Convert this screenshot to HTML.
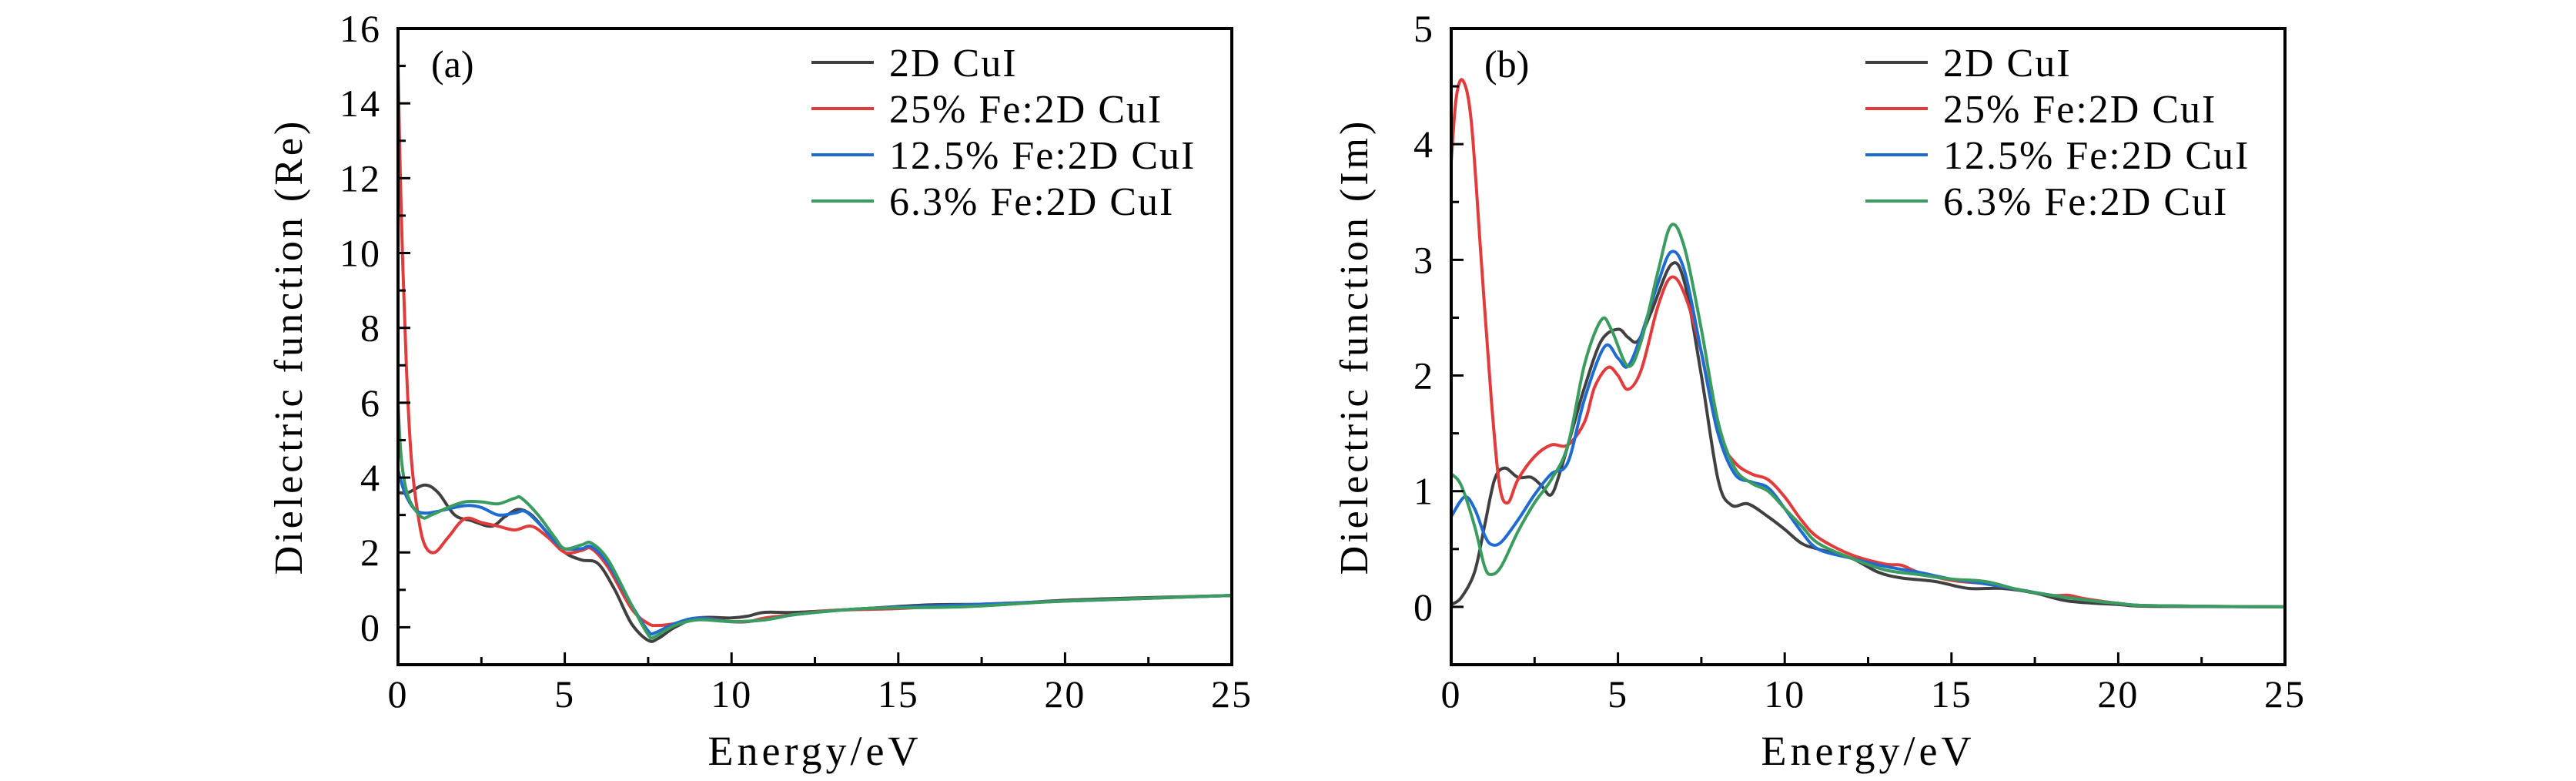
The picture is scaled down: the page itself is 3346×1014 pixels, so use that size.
<!DOCTYPE html>
<html><head><meta charset="utf-8"><style>
html,body{margin:0;padding:0;background:#fff;}
svg{display:block;}
text{font-family:"Liberation Serif",serif;fill:#000;}
</style></head><body>
<svg id="chart" width="3346" height="1014" viewBox="0 0 3346 1014" xmlns="http://www.w3.org/2000/svg"></svg>
<script>
const seriesNames = ["2D CuI","25% Fe:2D CuI","12.5% Fe:2D CuI","6.3% Fe:2D CuI"];
const seriesColors = ["#404040","#e23b3b","#1f6bd1","#3a9c5e"];
const xTicks = [0,5,10,15,20,25];
const yTicksA = [0,2,4,6,8,10,12,14,16];
const yTicksB = [0,1,2,3,4,5];

// Panel (a) Re
const reBlackX=[0,0.3,0.8,1.2,1.7,2.2,2.8,3.2,3.6,4,4.5,5,5.5,6,6.5,7,7.5,7.8,8.3,9,10,10.5,11,12,14,16,18,20,22,25];
const reBlackY=[3.6,3.6,3.8,3.6,3.0,2.85,2.7,2.95,3.15,3.0,2.5,2.0,1.8,1.7,1.0,0.1,-0.35,-0.3,0.0,0.25,0.25,0.3,0.4,0.4,0.5,0.6,0.62,0.72,0.78,0.85];
const reRedX=[0,0.1,0.25,0.4,0.6,0.8,1.1,1.5,2,2.5,3,3.5,4,4.5,5,5.5,5.8,6.3,7,7.5,7.8,8.3,9,10,10.5,11,12,13,15,17,20,25];
const reRedY=[15,11,7,4.5,3,2.2,2.0,2.4,2.9,2.8,2.7,2.6,2.7,2.4,2.0,2.05,2.1,1.6,0.5,0.1,0.05,0.1,0.25,0.15,0.15,0.25,0.35,0.45,0.5,0.6,0.7,0.85];
const reBlueX=[0,0.2,0.5,0.8,1.2,2,2.5,3,3.5,3.8,4.2,4.7,5,5.5,5.8,6.3,7,7.5,7.7,8.3,9,10,11,12,14,17,20,25];
const reBlueY=[4.2,3.6,3.15,3.05,3.1,3.25,3.2,3.0,3.05,3.1,2.8,2.3,2.1,2.1,2.15,1.7,0.6,-0.1,-0.15,0.1,0.25,0.15,0.2,0.35,0.5,0.6,0.7,0.85];
const reGreenX=[0,0.1,0.3,0.7,1,1.5,2,2.5,3,3.5,3.7,4.2,4.7,5,5.5,5.8,6.3,7,7.5,7.7,8.3,9,10,11,12,14,17,20,25];
const reGreenY=[6,4.5,3.5,2.95,3.0,3.2,3.35,3.35,3.3,3.45,3.45,3.0,2.4,2.1,2.2,2.25,1.8,0.6,-0.2,-0.25,0.05,0.2,0.15,0.2,0.35,0.5,0.55,0.7,0.85];

// Panel (b) Im
const imBlackX=[0,0.3,0.7,1,1.3,1.6,2,2.4,2.7,3,3.3,3.7,4,4.5,5,5.3,5.6,6,6.6,7,7.5,8,8.4,8.9,9.5,10,10.5,11,12,12.8,13.5,14.5,15.5,16.5,17.5,18.5,20,21,25];
const imBlackY=[0.02,0.08,0.3,0.7,1.1,1.2,1.12,1.12,1.05,0.97,1.2,1.6,1.9,2.3,2.4,2.33,2.3,2.55,2.96,2.8,2.0,1.1,0.88,0.89,0.78,0.67,0.55,0.5,0.42,0.3,0.25,0.22,0.16,0.16,0.12,0.05,0.02,0.005,0];
const imRedX=[0,0.15,0.35,0.6,0.9,1.2,1.45,1.7,2,2.5,3,3.5,4,4.3,4.7,5,5.3,5.7,6.2,6.6,7,7.5,8,8.5,9,9.5,10,10.5,11,12,13,13.5,14,15,16,17,18,18.5,19,20,21,25];
const imRedY=[3.85,4.4,4.55,4.2,3.0,1.8,1.05,0.9,1.1,1.3,1.4,1.4,1.6,1.9,2.07,2.0,1.88,2.05,2.6,2.85,2.7,2.2,1.5,1.25,1.15,1.1,0.95,0.75,0.6,0.45,0.37,0.36,0.3,0.23,0.2,0.15,0.1,0.1,0.07,0.03,0.01,0];
const imBlueX=[0,0.4,0.7,1,1.2,1.5,2,2.5,3,3.5,4,4.6,5,5.3,5.7,6.2,6.6,7,7.5,8,8.5,9,9.5,10,10.5,11,12,13,14,15,16,17,18,19,20,21,25];
const imBlueY=[0.78,0.95,0.85,0.62,0.54,0.56,0.75,0.97,1.15,1.25,1.8,2.25,2.15,2.08,2.35,2.8,3.07,2.9,2.2,1.5,1.15,1.08,1.03,0.85,0.65,0.5,0.42,0.35,0.3,0.24,0.2,0.15,0.1,0.06,0.03,0.01,0];
const imGreenX=[0,0.3,0.7,1,1.2,1.5,2,2.5,3,3.5,4,4.5,4.8,5.3,5.7,6.2,6.6,7,7.5,8,8.5,9,9.5,10,10.5,11,12,13,14,15,16,17,18,19,20,21,25];
const imGreenY=[1.15,1.05,0.7,0.35,0.28,0.35,0.65,0.9,1.1,1.4,2.1,2.48,2.4,2.08,2.3,2.9,3.3,3.1,2.4,1.6,1.2,1.07,1.0,0.85,0.7,0.55,0.42,0.32,0.28,0.24,0.22,0.15,0.1,0.06,0.03,0.01,0];

const svg=document.getElementById('chart');
const NS='http://www.w3.org/2000/svg';
function mk(tag,attrs,parent){const e=document.createElementNS(NS,tag);for(const k in attrs)e.setAttribute(k,attrs[k]);(parent||svg).appendChild(e);return e;}
function smooth(pts){let d='M'+pts[0][0].toFixed(1)+','+pts[0][1].toFixed(1);
 for(let i=0;i<pts.length-1;i++){const p0=pts[Math.max(0,i-1)],p1=pts[i],p2=pts[i+1],p3=pts[Math.min(pts.length-1,i+2)];
  const c1=[p1[0]+(p2[0]-p0[0])/6,p1[1]+(p2[1]-p0[1])/6],c2=[p2[0]-(p3[0]-p1[0])/6,p2[1]-(p3[1]-p1[1])/6];
  d+=' C'+c1[0].toFixed(1)+','+c1[1].toFixed(1)+' '+c2[0].toFixed(1)+','+c2[1].toFixed(1)+' '+p2[0].toFixed(1)+','+p2[1].toFixed(1);}
 return d;}

function panel(cfg){
 const {L,R,T,B,ymin,ymax,yTicks,yMinor,label,ytitle,series,tag,legX,titleX}=cfg;
 const g=mk('g',{});
 
 
 const xs=v=>L+(v-0)/25*(R-L);
 const ys=v=>B-(v-ymin)/(ymax-ymin)*(B-T);
 const clipId='clip-'+tag;
 const cp=mk('clipPath',{id:clipId},g);mk('rect',{x:L,y:T,width:R-L,height:B-T},cp);
 const lg=mk('g',{'clip-path':'url(#'+clipId+')'},g);
 series.forEach((s,i)=>{
  const pts=s[0].map((x,j)=>[xs(x),ys(s[1][j])]);
  const p=mk('path',{d:smooth(pts),fill:'none',stroke:seriesColors[i],'stroke-width':4,'stroke-linejoin':'round'},lg);
  
  
 });
 const fr=mk('rect',{x:L,y:T,width:R-L,height:B-T,fill:'none',stroke:'#000','stroke-width':4},g);
 
 
 for(let v=0;v<=25;v+=2.5){const x=xs(v);const major=(v%5===0);
  mk('line',{x1:x,y1:B,x2:x,y2:B-(major?16:10),stroke:'#000','stroke-width':3},g);}
 xTicks.forEach(v=>{const t=mk('text',{x:xs(v),y:918,'font-size':50,'text-anchor':'middle','letter-spacing':'2'},g);t.textContent=v;
  
  });
 for(let v=yMinor[0];v<=ymax+1e-6;v+=yMinor[1]){const y=ys(v);const major=yTicks.some(t=>Math.abs(t-v)<1e-6);
  mk('line',{x1:L,y1:y,x2:L+(major?16:10),y2:y,stroke:'#000','stroke-width':3},g);}
 yTicks.forEach(v=>{const t=mk('text',{x:L-22,y:ys(v)+17,'font-size':50,'text-anchor':'end','letter-spacing':'2'},g);t.textContent=v;
  
  });
 const xt=mk('text',{x:(L+R)/2,y:993,'font-size':54,'text-anchor':'middle','letter-spacing':'5'},g);xt.textContent='Energy/eV';
 
 
 const yt=mk('text',{x:titleX,y:(T+B)/2,'font-size':52,'text-anchor':'middle','letter-spacing':'4',transform:'rotate(-90 '+titleX+' '+(T+B)/2+')'},g);yt.textContent=ytitle;
 
 
 const pl=mk('text',{x:L+43,y:100,'font-size':50},g);pl.textContent=label;
 
 
 const rows=[81,141,201,261];
 seriesNames.forEach((n,i)=>{
  const le=mk('g',{},g);
  
  
  mk('line',{x1:legX,y1:rows[i],x2:legX+81,y2:rows[i],stroke:seriesColors[i],'stroke-width':4},le);
  const t=mk('text',{x:legX+101,y:rows[i]+18,'font-size':52,'letter-spacing':'2'},le);t.textContent=n;
 });
}
panel({L:517,R:1600,T:37,B:863,ymin:-1,ymax:16,yTicks:yTicksA,yMinor:[-1,1],label:'(a)',ytitle:'Dielectric function (Re)',tag:'a',legX:1054,titleX:392,
 series:[[reBlackX,reBlackY],[reRedX,reRedY],[reBlueX,reBlueY],[reGreenX,reGreenY]]});
panel({L:1885,R:2968,T:37,B:863,ymin:-0.5,ymax:5,yTicks:yTicksB,yMinor:[0,0.5],label:'(b)',ytitle:'Dielectric function (Im)',tag:'b',legX:2423,titleX:1776,
 series:[[imBlackX,imBlackY],[imRedX,imRedY],[imBlueX,imBlueY],[imGreenX,imGreenY]]});
</script>
</body></html>
